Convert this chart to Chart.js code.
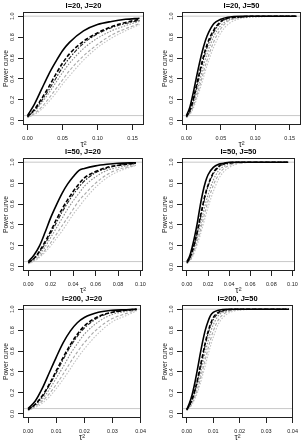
<!DOCTYPE html>
<html>
<head>
<meta charset="utf-8">
<script src="https://cdn.jsdelivr.net/npm/chart.js@4.4.1/dist/chart.umd.min.js"></script>
<style>
  html, body { margin: 0; padding: 0; background: #fff; }
  body { width: 303px; height: 443px; position: relative; overflow: hidden; }
  canvas { position: absolute; }
</style>
</head>
<body>
<script>
// panel titles
const panelTitles = ['I=20, J=20', 'I=20, J=50', 'I=50, J=20', 'I=50, J=50', 'I=200, J=20', 'I=200, J=50'];

// tau^2 values where power was read, per panel
const tau_I20_J20 = [0, 0.01, 0.02, 0.03, 0.04, 0.05, 0.06, 0.08, 0.10, 0.12, 0.14, 0.16];
const tau_I20_J50 = [0, 0.005, 0.01, 0.015, 0.02, 0.025, 0.03, 0.04, 0.05, 0.06, 0.08, 0.10, 0.13, 0.16];
const tau_I50_J20 = [0, 0.005, 0.01, 0.015, 0.02, 0.025, 0.03, 0.035, 0.04, 0.045, 0.05, 0.06, 0.07, 0.08, 0.096];
const tau_I50_J50 = [0, 0.0025, 0.005, 0.0075, 0.01, 0.0125, 0.015, 0.0175, 0.02, 0.025, 0.03, 0.035, 0.04, 0.05, 0.07, 0.096];
const tau_I200_J20 = [0, 0.0025, 0.005, 0.0075, 0.01, 0.0125, 0.015, 0.0175, 0.02, 0.025, 0.03, 0.035, 0.0386];
const tau_I200_J50 = [0, 0.001, 0.002, 0.003, 0.004, 0.005, 0.006, 0.007, 0.008, 0.009, 0.01, 0.012, 0.015, 0.02, 0.03, 0.0386];

// power curves, one row per method (solid, dashed, dot-dash, then the three grey ones)
const power_I20_J20 = [
  [0.05, 0.16, 0.30, 0.44, 0.56, 0.67, 0.75, 0.86, 0.92, 0.95, 0.97, 0.98],
  [0.04, 0.11, 0.21, 0.32, 0.44, 0.55, 0.64, 0.76, 0.84, 0.90, 0.94, 0.97],
  [0.04, 0.10, 0.19, 0.29, 0.40, 0.51, 0.60, 0.74, 0.83, 0.89, 0.93, 0.96],
  [0.04, 0.09, 0.17, 0.26, 0.36, 0.46, 0.55, 0.69, 0.79, 0.86, 0.91, 0.95],
  [0.03, 0.07, 0.13, 0.21, 0.30, 0.39, 0.48, 0.62, 0.73, 0.82, 0.88, 0.93],
  [0.03, 0.06, 0.11, 0.18, 0.26, 0.35, 0.43, 0.58, 0.70, 0.79, 0.86, 0.92]
];
const power_I20_J50 = [
  [0.05, 0.13, 0.27, 0.43, 0.58, 0.71, 0.81, 0.93, 0.97, 0.99, 1.00, 1.00, 1.00, 1.00],
  [0.04, 0.10, 0.21, 0.35, 0.49, 0.62, 0.73, 0.87, 0.95, 0.98, 0.995, 1.00, 1.00, 1.00],
  [0.04, 0.09, 0.19, 0.32, 0.46, 0.59, 0.70, 0.85, 0.94, 0.98, 0.99, 1.00, 1.00, 1.00],
  [0.04, 0.08, 0.16, 0.28, 0.40, 0.53, 0.64, 0.81, 0.91, 0.96, 0.99, 1.00, 1.00, 1.00],
  [0.03, 0.07, 0.14, 0.24, 0.35, 0.47, 0.58, 0.76, 0.88, 0.95, 0.99, 1.00, 1.00, 1.00],
  [0.03, 0.06, 0.12, 0.21, 0.31, 0.42, 0.53, 0.71, 0.84, 0.92, 0.98, 0.99, 1.00, 1.00]
];
const power_I50_J20 = [
  [0.05, 0.11, 0.20, 0.33, 0.47, 0.59, 0.70, 0.79, 0.86, 0.92, 0.94, 0.965, 0.98, 0.99, 0.995],
  [0.04, 0.08, 0.15, 0.24, 0.34, 0.45, 0.55, 0.64, 0.72, 0.79, 0.85, 0.91, 0.95, 0.97, 0.99],
  [0.04, 0.08, 0.14, 0.22, 0.32, 0.42, 0.52, 0.61, 0.69, 0.76, 0.82, 0.90, 0.94, 0.97, 0.99],
  [0.04, 0.07, 0.12, 0.19, 0.28, 0.37, 0.46, 0.55, 0.63, 0.70, 0.77, 0.86, 0.92, 0.95, 0.98],
  [0.03, 0.06, 0.10, 0.16, 0.23, 0.31, 0.39, 0.47, 0.55, 0.63, 0.69, 0.80, 0.88, 0.93, 0.97],
  [0.03, 0.05, 0.09, 0.14, 0.20, 0.27, 0.34, 0.42, 0.50, 0.57, 0.64, 0.76, 0.85, 0.91, 0.97]
];
const power_I50_J50 = [
  [0.05, 0.10, 0.19, 0.30, 0.43, 0.58, 0.71, 0.81, 0.88, 0.95, 0.98, 0.99, 1.00, 1.00, 1.00, 1.00],
  [0.04, 0.08, 0.15, 0.24, 0.35, 0.47, 0.59, 0.70, 0.78, 0.90, 0.96, 0.985, 0.995, 1.00, 1.00, 1.00],
  [0.04, 0.08, 0.14, 0.23, 0.33, 0.45, 0.57, 0.68, 0.77, 0.89, 0.95, 0.98, 0.99, 1.00, 1.00, 1.00],
  [0.04, 0.07, 0.12, 0.20, 0.29, 0.39, 0.50, 0.60, 0.69, 0.83, 0.92, 0.96, 0.985, 1.00, 1.00, 1.00],
  [0.03, 0.06, 0.10, 0.17, 0.25, 0.34, 0.44, 0.54, 0.63, 0.78, 0.88, 0.94, 0.97, 0.99, 1.00, 1.00],
  [0.03, 0.05, 0.09, 0.15, 0.22, 0.30, 0.39, 0.48, 0.57, 0.72, 0.84, 0.91, 0.95, 0.99, 1.00, 1.00]
];
const power_I200_J20 = [
  [0.05, 0.12, 0.24, 0.39, 0.54, 0.68, 0.79, 0.87, 0.92, 0.97, 0.99, 0.995, 1.00],
  [0.04, 0.09, 0.17, 0.28, 0.41, 0.54, 0.66, 0.76, 0.84, 0.93, 0.97, 0.99, 1.00],
  [0.04, 0.09, 0.16, 0.27, 0.39, 0.52, 0.64, 0.74, 0.82, 0.92, 0.97, 0.99, 1.00],
  [0.04, 0.08, 0.14, 0.23, 0.34, 0.45, 0.57, 0.67, 0.76, 0.88, 0.95, 0.98, 0.995],
  [0.03, 0.07, 0.12, 0.19, 0.28, 0.38, 0.49, 0.59, 0.68, 0.82, 0.91, 0.96, 0.99],
  [0.03, 0.06, 0.10, 0.16, 0.24, 0.33, 0.43, 0.53, 0.62, 0.77, 0.88, 0.94, 0.985]
];
const power_I200_J50 = [
  [0.04, 0.10, 0.18, 0.29, 0.42, 0.56, 0.69, 0.80, 0.88, 0.94, 0.97, 0.99, 1.00, 1.00, 1.00, 1.00],
  [0.04, 0.08, 0.14, 0.22, 0.32, 0.44, 0.56, 0.68, 0.78, 0.86, 0.92, 0.97, 0.995, 1.00, 1.00, 1.00],
  [0.04, 0.08, 0.13, 0.21, 0.31, 0.42, 0.54, 0.66, 0.76, 0.84, 0.90, 0.96, 0.99, 1.00, 1.00, 1.00],
  [0.04, 0.07, 0.12, 0.19, 0.27, 0.37, 0.48, 0.59, 0.69, 0.78, 0.85, 0.94, 0.98, 1.00, 1.00, 1.00],
  [0.03, 0.06, 0.10, 0.16, 0.23, 0.32, 0.42, 0.52, 0.62, 0.71, 0.79, 0.90, 0.97, 0.995, 1.00, 1.00],
  [0.03, 0.05, 0.09, 0.14, 0.20, 0.28, 0.37, 0.46, 0.56, 0.65, 0.73, 0.86, 0.95, 0.99, 1.00, 1.00]
];

// x tick labels per panel and axis limits
const xTicks_J = [
  [0, 0.05, 0.10, 0.15],
  [0, 0.02, 0.04, 0.06, 0.08, 0.10],
  [0, 0.01, 0.02, 0.03, 0.04]
];
const xLimits = [[-0.0064, 0.1664], [-0.0047, 0.1023], [-0.0018, 0.0402]];
const yTicks = [0, 0.2, 0.4, 0.6, 0.8, 1.0];
const refLevels = [1, 0.05]; // grey horizontal reference lines

const panels = [
  { tau: tau_I20_J20, power: power_I20_J20, row: 0 },
  { tau: tau_I20_J50, power: power_I20_J50, row: 0 },
  { tau: tau_I50_J20, power: power_I50_J20, row: 1 },
  { tau: tau_I50_J50, power: power_I50_J50, row: 1 },
  { tau: tau_I200_J20, power: power_I200_J20, row: 2 },
  { tau: tau_I200_J50, power: power_I200_J50, row: 2 }
];

// line look for each of the six methods
const lineStyles = [
  { color: '#000000', dash: [], width: 1.6 },
  { color: '#000000', dash: [4, 2], width: 1.6 },
  { color: '#222222', dash: [1.5, 1.5, 4, 1.5], width: 1.1 },
  { color: '#8c8c8c', dash: [1.5, 1.5], width: 1.1 },
  { color: '#a8a8a8', dash: [3, 2], width: 1.1 },
  { color: '#c2c2c2', dash: [1.5, 1.5], width: 1.1 }
];

const FONT = "'Liberation Sans', Arial, sans-serif";
const CANVAS_H = 150;
const rowTops = [0, 146, 293];
const colLefts = [0, 159];
const colWidths = [151, 144];
const colPadRight = [7, 2];

// box around the plot region plus R-style rotated y tick labels
const rFrame = {
  id: 'rFrame',
  afterDraw(chart) {
    const { ctx, chartArea: a } = chart;
    const y = chart.scales.y;
    ctx.save();
    ctx.strokeStyle = '#222';
    ctx.lineWidth = 1;
    ctx.setLineDash([]);
    ctx.strokeRect(Math.round(a.left) + 0.5, Math.round(a.top) + 0.5,
      Math.round(a.right - a.left) - 1, Math.round(a.bottom - a.top) - 1);
    ctx.font = '5.5px ' + FONT;
    ctx.fillStyle = '#222';
    ctx.textAlign = 'center';
    ctx.textBaseline = 'middle';
    y.ticks.forEach(t => {
      const py = y.getPixelForValue(t.value);
      ctx.save();
      ctx.translate(a.left - 10.7, py);
      ctx.rotate(-Math.PI / 2);
      ctx.fillText(t.value.toFixed(1), 0, 0);
      ctx.restore();
    });
    ctx.restore();
  }
};

panels.forEach((p, i) => {
  const col = i % 2;
  const canvas = document.createElement('canvas');
  canvas.width = colWidths[col];
  canvas.height = CANVAS_H;
  canvas.style.left = colLefts[col] + 'px';
  canvas.style.top = rowTops[p.row] + 'px';
  canvas.style.width = colWidths[col] + 'px';
  canvas.style.height = CANVAS_H + 'px';
  document.body.appendChild(canvas);

  const [xMin, xMax] = xLimits[p.row];

  const curves = p.power.map((vals, k) => ({
    data: p.tau.map((t, j) => ({ x: t, y: vals[j] })),
    borderColor: lineStyles[k].color,
    borderDash: lineStyles[k].dash,
    borderWidth: lineStyles[k].width,
    pointRadius: 0,
    cubicInterpolationMode: 'monotone',
    fill: false,
    order: k
  }));
  const refs = refLevels.map(level => ({
    data: [{ x: xMin, y: level }, { x: xMax, y: level }],
    borderColor: '#c8c8c8',
    borderWidth: 1,
    pointRadius: 0,
    fill: false,
    order: 10
  }));

  const gridOpts = { drawOnChartArea: false, drawTicks: true, tickLength: 5, color: '#222', lineWidth: 1 };

  new Chart(canvas.getContext('2d'), {
    type: 'line',
    data: { datasets: refs.concat(curves) },
    options: {
      responsive: false,
      animation: false,
      devicePixelRatio: 1,
      layout: { padding: { left: 0, right: colPadRight[col], top: 0, bottom: 0 } },
      plugins: {
        legend: { display: false },
        tooltip: { enabled: false },
        title: {
          display: true,
          text: panelTitles[i],
          fullSize: false,
          color: '#000',
          font: { family: FONT, size: 7.5, weight: 'bold' },
          padding: { top: 1.5, bottom: 1.5 }
        }
      },
      scales: {
        x: {
          type: 'linear',
          min: xMin,
          max: xMax,
          afterBuildTicks: s => { s.ticks = xTicks_J[p.row].map(v => ({ value: v })); },
          afterFit: s => { s.height = CANVAS_H - 125; },
          ticks: {
            autoSkip: false,
            maxRotation: 0,
            padding: 5,
            color: '#222',
            font: { family: FONT, size: 5.5 },
            callback: v => v.toFixed(2)
          },
          grid: gridOpts,
          border: { display: false },
          title: {
            display: true,
            text: 'τ²',
            color: '#222',
            font: { family: FONT, size: 8.5 },
            padding: { top: 0, bottom: 0.5 }
          }
        },
        y: {
          type: 'linear',
          min: -0.04,
          max: 1.04,
          afterBuildTicks: s => { s.ticks = yTicks.map(v => ({ value: v })); },
          afterFit: s => { s.width = 23; },
          ticks: { display: false },
          grid: gridOpts,
          border: { display: false },
          title: {
            display: true,
            text: 'Power curve',
            color: '#222',
            font: { family: FONT, size: 6.7 },
            padding: { top: 2, bottom: 0 }
          }
        }
      }
    },
    plugins: [rFrame]
  });
});
</script>
</body>
</html>
